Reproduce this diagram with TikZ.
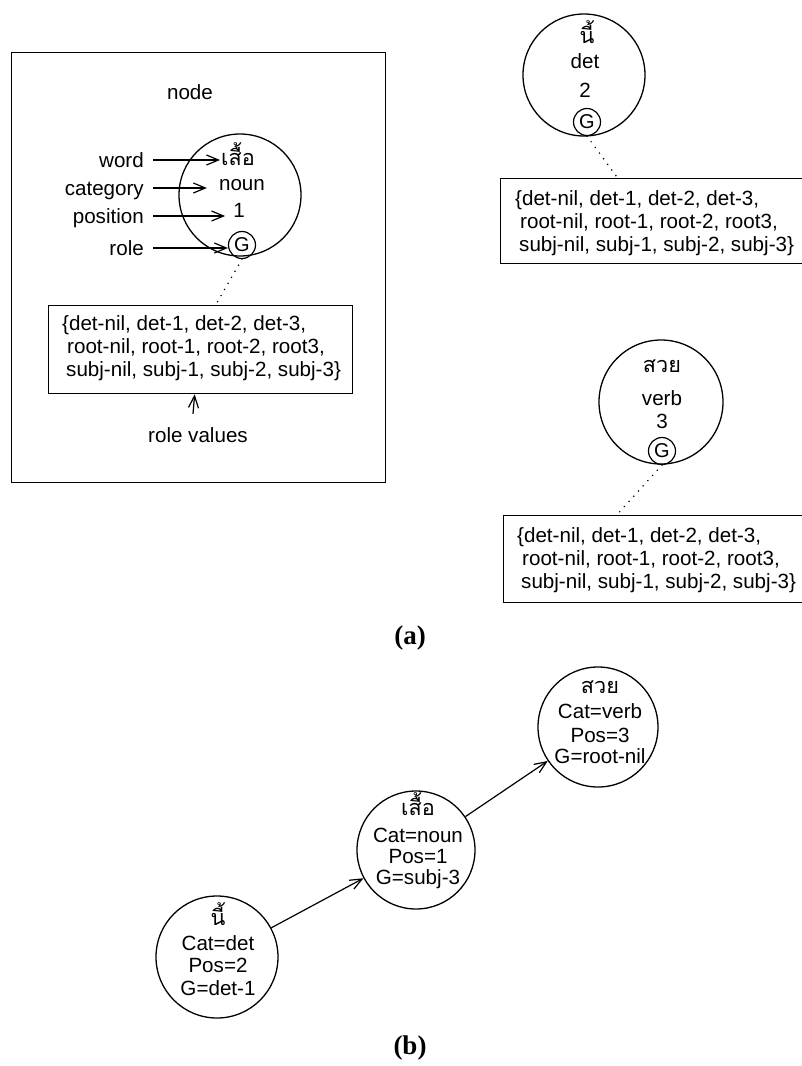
\documentclass[tikz,border=0pt]{standalone}
\usepackage{fontspec}
\setmainfont{Liberation Sans}
\newfontfamily\thaifont[Script=Thai,Scale=1.05]{Loma}
\newfontfamily\serifb{Liberation Serif}
\usetikzlibrary{arrows.meta}
\tikzset{
  every node/.style={font=\fontsize{20.6pt}{23pt}\selectfont},
  bigc/.style={draw, circle, minimum size=122pt, inner sep=0pt, line width=1.3pt},
  gc/.style={draw, circle, minimum size=27pt, inner sep=0pt, line width=1.2pt, font=\fontsize{20pt}{21pt}\selectfont},
  txt/.style={inner sep=0pt, anchor=base},
  thtxt/.style={inner sep=0pt, anchor=base, text depth=0pt, font=\fontsize{20.6pt}{23pt}\thaifont},
  lbl/.style={inner sep=0pt, anchor=base east, text height=14pt, text depth=0pt},
  arr/.style={-{Straight Barb[length=12pt,width=10pt,line width=1.2pt]}, line width=1.2pt},
  dotl/.style={line width=1.7pt, line cap=round, dash pattern=on 0pt off 7pt},
  vbox/.style={draw, line width=1.3pt, anchor=north west, inner sep=0pt},
  vtxt/.style={anchor=west, align=left, inner sep=0pt},
  captionlbl/.style={font=\serifb\bfseries\fontsize{27pt}{28pt}\selectfont, inner sep=0pt},
}
\newcommand{\rolevals}{\{det-nil, det-1, det-2, det-3,\\\hspace*{5pt}root-nil, root-1, root-2, root3,\\\hspace*{4pt}subj-nil, subj-1, subj-2, subj-3\}}
\begin{document}
\begin{tikzpicture}[x=1pt,y=-1pt]
\useasboundingbox (0,0) rectangle (802,1066);

% ---------- (a) left box ----------
\node[draw, line width=1.3pt, anchor=north west, minimum width=374pt, minimum height=430pt, inner sep=0pt] (frame) at (11,52) {};
\node[txt] (nodeT) at (190,99) {node};
\node[lbl] (wl) at (144,167) {word};
\node[lbl] (cl) at (144,195) {category};
\node[lbl] (pl) at (144,223) {position};
\node[lbl] (rl) at (144,255) {role};
\node[bigc] (c1) at (240,195) {};
\node[thtxt] (w1) at (238,165) {เสื้อ};
\node[txt] (n1) at (242,190) {noun};
\node[txt] (p1) at (239,217) {1};
\node[gc] (g1) at (242,245) {G};
\draw[arr] ([xshift=9pt]wl.east) -- ([xshift=-1pt]wl.east -| w1.west);
\draw[arr] ([xshift=9pt]cl.east) -- ([xshift=-12pt]cl.east -| n1.west);
\draw[arr] ([xshift=9pt]pl.east) -- ([xshift=-8pt]pl.east -| p1.west);
\draw[arr] ([xshift=9pt]rl.east) -- (rl.east -| g1.west);
\node[vbox, minimum width=304pt, minimum height=88pt] (b1) at (48,305) {};
\node[vtxt] (t1) at ([xshift=14pt,yshift=1pt]b1.west) {\rolevals};
\draw[dotl] (g1.south) -- ([xshift=15pt]b1.north);
\node[txt] (rv) at (198,442) {role values};
\draw[arr] ([xshift=-5pt,yshift=13pt]rv.north) -- ([xshift=-6pt]b1.south);

% ---------- (a) right top ----------
\node[bigc] (c2) at (584,75) {};
\node[thtxt] (w2) at (587,43) {นี้};
\node[txt] (n2) at (585,68) {det};
\node[txt] (p2) at (585,97) {2};
\node[gc] (g2) at (587,122) {G};
\node[vbox, minimum width=310pt, minimum height=85pt] (b2) at (500,178) {};
\node[vtxt] (t2) at ([xshift=15pt,yshift=-2pt]b2.west) {\rolevals};
\draw[dotl] (g2.south) -- ([xshift=-38pt]b2.north);

% ---------- (a) right middle ----------
\node[bigc, minimum size=124pt] (c3) at (661,402) {};
\node[thtxt] (w3) at (662,372) {สวย};
\node[txt] (n3) at (662,405) {verb};
\node[txt] (p3) at (662,428) {3};
\node[gc] (g3) at (662,451) {G};
\node[vbox, minimum width=310pt, minimum height=87pt] (b3) at (503,515) {};
\node[vtxt] (t3) at ([xshift=14pt,yshift=-1pt]b3.west) {\rolevals};
\draw[dotl] (g3.south) -- ([xshift=-42pt]b3.north);

\node[captionlbl] (la) at (410,638) {(a)};

% ---------- (b) ----------
\node[bigc] (d1) at (217,957) {};
\node[thtxt] at (218,925) {นี้};
\node[txt] at (218,950) {Cat=det};
\node[txt] at (218,972) {Pos=2};
\node[txt] at (218,995) {G=det-1};

\node[bigc, minimum size=118pt] (d2) at (416,850) {};
\node[thtxt] at (418,815) {เสื้อ};
\node[txt] at (418,842) {Cat=noun};
\node[txt] at (418,863) {Pos=1};
\node[txt] at (418,884) {G=subj-3};

\node[bigc, minimum size=120pt] (d3) at (598,727) {};
\node[thtxt] at (600,693) {สวย};
\node[txt] at (600,718) {Cat=verb};
\node[txt] at (600,742) {Pos=3};
\node[txt] at (600,763) {G=root-nil};

\draw[arr] (d1) -- (d2);
\draw[arr] (d2) -- (d3);

\node[captionlbl] (lb) at (410,1048) {(b)};
\end{tikzpicture}
\end{document}
